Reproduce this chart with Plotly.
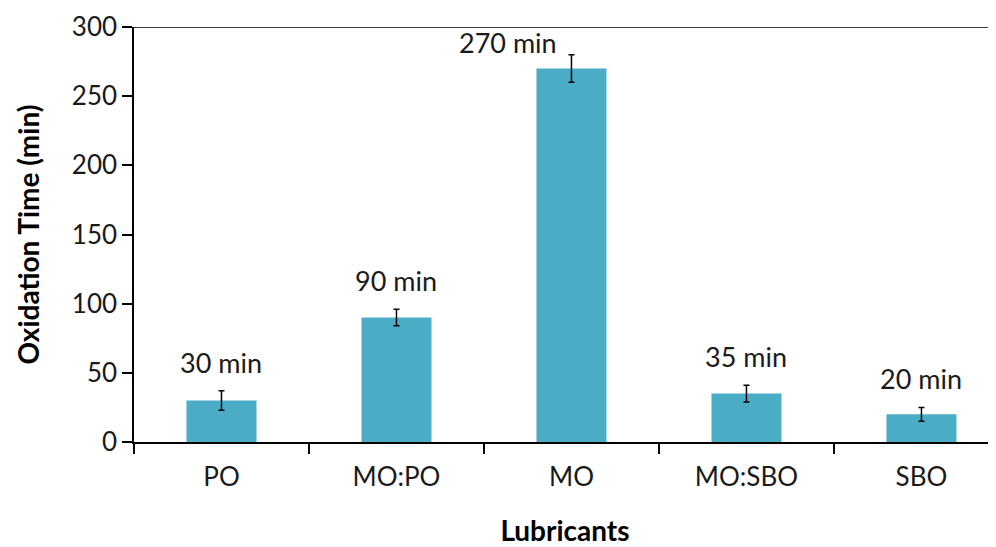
import plotly.graph_objects as go

lubricants = ["PO", "MO:PO", "MO", "MO:SBO", "SBO"]
oxidation_time = [30, 90, 270, 35, 20]
error = [7, 6, 10, 6, 5]
labels = ["30 min", "90 min", "270 min", "35 min", "20 min"]

font = "Lato, 'Open Sans', sans-serif"

fig = go.Figure(go.Bar(
    x=lubricants, y=oxidation_time, width=0.4,
    marker_color="#4BACC6", marker_line_width=0,
    error_y=dict(type="data", array=error, color="black", thickness=1.5, width=3),
))

# value labels above the error bars (the tall one is nudged left like the original)
for i, (cat, v, e, t) in enumerate(zip(lubricants, oxidation_time, error, labels)):
    big = v == max(oxidation_time)
    fig.add_annotation(
        x=cat, y=v + e, text=t, showarrow=False, yanchor="bottom",
        xshift=-63 if big else 0, yshift=-6 if big else 10,
        font=dict(size=27, color="#1a1a1a", family=font),
    )

# top border line at 300
fig.add_shape(type="line", xref="paper", yref="y", x0=0, x1=1, y0=300, y1=300,
              line=dict(color="black", width=1.5))

fig.update_xaxes(
    range=[-0.5, 4.426], showline=True, linecolor="black", linewidth=1.5,
    ticks="outside", tickson="boundaries", ticklen=10, tickcolor="black", tickwidth=1.5,
    tickfont=dict(size=26, color="#1a1a1a", family=font), ticklabelstandoff=11,
    automargin=False,
    title=dict(text="<b>Lubricants</b>", font=dict(size=28, color="black", family=font), standoff=30),
)
fig.update_yaxes(
    range=[0, 300], dtick=50, showgrid=False, zeroline=False,
    showline=True, linecolor="black", linewidth=1.5,
    ticks="outside", ticklen=10, tickcolor="black", tickwidth=1.5,
    tickfont=dict(size=26, color="#1a1a1a", family=font), ticklabeloverflow="allow",
    automargin=False,
    title=dict(text="<b>Oxidation Time (min)</b>", font=dict(size=28, color="black", family=font), standoff=24),
)
fig.update_layout(
    width=996, height=547, margin=dict(l=126, r=8, t=19, b=113),
    plot_bgcolor="white", paper_bgcolor="white", showlegend=False,
)
fig.write_html("out.html")
